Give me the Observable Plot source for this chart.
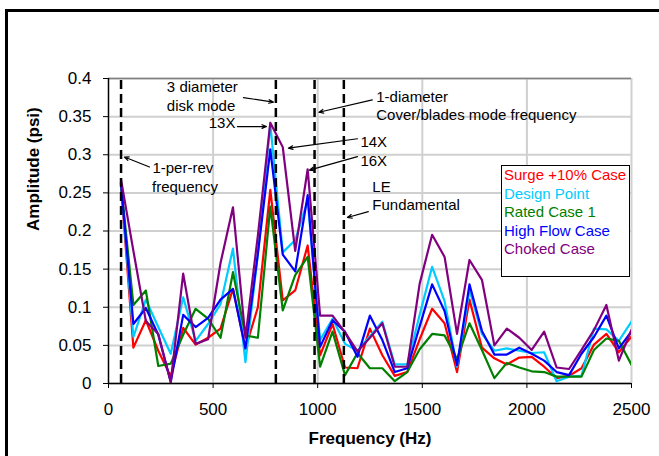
<!DOCTYPE html>
<html><head><meta charset="utf-8">
<script src="https://cdn.jsdelivr.net/npm/d3@7"></script>
<script src="https://cdn.jsdelivr.net/npm/@observablehq/plot@0.6"></script>
<style>
body{margin:0;background:#fff;font-family:Arial,"Liberation Sans",sans-serif;}
#wrap{position:relative;width:659px;height:456px;overflow:hidden;background:#fff;}
#frame{position:absolute;left:5px;top:9px;width:720px;height:520px;border:3px solid #000;box-sizing:border-box;}
#chart{position:absolute;left:0;top:0;}
#legend{position:absolute;left:501px;top:165px;width:129px;height:112px;border:1.5px solid #000;box-sizing:border-box;background:#fff;font-size:15px;line-height:18.6px;padding-left:2px;padding-top:0px;}
#legend div{white-space:nowrap;}
</style></head>
<body><div id="wrap"><div id="frame"></div><div id="chart"></div><div id="legend"></div></div>
<script>
const freq = [59.5,119,178.5,238,297.5,357,416.5,476,535.5,595,654.5,714,773.5,833,892.5,952,1011.5,1071,1130.5,1190,1249.5,1309,1368.5,1428,1487.5,1547,1606.5,1666,1725.5,1785,1844.5,1904,1963.5,2023,2082.5,2142,2201.5,2261,2320.5,2380,2439.5,2499];

const surge = [0.262,0.047,0.083,0.043,0.009,0.073,0.051,0.060,0.072,0.124,0.046,0.100,0.254,0.109,0.122,0.181,0.037,0.078,0.021,0.020,0.072,0.037,0.010,0.015,0.058,0.098,0.079,0.015,0.110,0.047,0.033,0.025,0.034,0.035,0.022,0.007,0.010,0.020,0.051,0.065,0.041,0.061];
const design = [0.265,0.061,0.110,0.074,0.039,0.113,0.056,0.078,0.104,0.177,0.028,0.170,0.340,0.172,0.188,0.240,0.057,0.085,0.052,0.043,0.062,0.081,0.025,0.025,0.090,0.153,0.108,0.022,0.123,0.065,0.043,0.046,0.043,0.040,0.041,0.003,0.009,0.010,0.072,0.071,0.056,0.081];
const rated = [0.262,0.103,0.122,0.023,0.026,0.064,0.098,0.085,0.060,0.146,0.063,0.060,0.232,0.096,0.142,0.166,0.022,0.068,0.011,0.040,0.020,0.020,0.003,0.015,0.045,0.065,0.063,0.032,0.079,0.044,0.007,0.027,0.021,0.016,0.015,0.009,0.009,0.009,0.044,0.059,0.056,0.025];
const highFlow = [0.263,0.078,0.099,0.064,0.002,0.090,0.074,0.086,0.110,0.124,0.046,0.170,0.307,0.169,0.147,0.247,0.048,0.083,0.068,0.035,0.089,0.057,0.015,0.020,0.075,0.130,0.095,0.024,0.130,0.069,0.038,0.038,0.047,0.039,0.030,0.015,0.011,0.039,0.061,0.089,0.046,0.068];
const choked = [0.268,0.174,0.082,0.065,0.002,0.144,0.052,0.058,0.158,0.231,0.060,0.194,0.342,0.310,0.174,0.281,0.089,0.089,0.067,0.042,0.060,0.079,0.022,0.022,0.131,0.195,0.166,0.065,0.162,0.136,0.050,0.072,0.060,0.044,0.068,0.021,0.019,0.044,0.070,0.103,0.030,0.070];

const seriesNames = ["Surge +10% Case","Design Point","Rated Case 1","High Flow Case","Choked Case"];
const seriesValues = [surge, design, rated, highFlow, choked];
const seriesColors = ["#ff0000","#00ccff","#008000","#0000ff","#800080"];

const xTicks = [0,500,1000,1500,2000,2500];
const yTicks = [0,0.05,0.1,0.15,0.2,0.25,0.3,0.35,0.4];
const yTickLabels = ["0","0.05","0.1","0.15","0.2","0.25","0.3","0.35","0.4"];
const markerFreqs = [60,800,985,1125];

const rows = seriesNames.flatMap((name,i)=>freq.map((f,j)=>({f, v: seriesValues[i][j], series: name})));

const font = "Arial, 'Liberation Sans', sans-serif";
const ann = {fontSize:15, fill:"#000", textAnchor:"start", fontFamily:font};
const arrowStyle = {stroke:"#000", strokeWidth:1.2, headLength:6, headAngle:45};

const chart = Plot.plot({
  width:659, height:456,
  marginLeft:108, marginRight:28, marginTop:78, marginBottom:73,
  style:{fontFamily:font, background:"transparent", overflow:"visible"},
  x:{domain:[0,2500]},
  y:{domain:[0,0.4]},
  color:{domain:seriesNames, range:seriesColors},
  marks:[
    Plot.gridY(yTicks, {stroke:"#d0d0d0", strokeOpacity:1, strokeWidth:2}),
    Plot.gridX(xTicks.slice(1), {stroke:"#d0d0d0", strokeOpacity:1, strokeWidth:2}),
    Plot.ruleY([0.4], {stroke:"#808080", strokeWidth:1.5}),
    Plot.line(rows, {x:"f", y:"v", z:"series", stroke:"series", strokeWidth:2.2, clip:true}),
    Plot.ruleX(markerFreqs, {y1:0, y2:0.4, stroke:"#000", strokeWidth:2.5, strokeDasharray:"9,5"}),
    Plot.ruleY([0], {stroke:"#000", strokeWidth:1.5}),
    Plot.ruleX([0], {stroke:"#000", strokeWidth:1.5}),
    Plot.axisX({ticks:xTicks, tickFormat:d=>String(d), tickSize:5, tickPadding:14, fontSize:17, label:null, stroke:"#000"}),
    Plot.axisY({ticks:yTicks, tickFormat:(d,i)=>yTickLabels[i], tickSize:5, tickPadding:12, fontSize:17, label:null, stroke:"#000"}),
    Plot.text(["Frequency (Hz)"], {frameAnchor:"bottom", dy:60, fontSize:17, fontWeight:"bold", fontFamily:font}),
    Plot.text(["Amplitude (psi)"], {frameAnchor:"left", dx:-75, rotate:-90, fontSize:17, fontWeight:"bold", fontFamily:font}),
    // annotations
    Plot.text(["3 diameter"], {...ann, x:279, y:0.388}),
    Plot.text(["disk mode"], {...ann, x:279, y:0.364}),
    Plot.arrow([0], {...arrowStyle, x1:645, y1:0.375, x2:788, y2:0.369}),
    Plot.text(["13X"], {...ann, textAnchor:"end", x:607, y:0.342}),
    Plot.arrow([0], {...arrowStyle, x1:616, y1:0.337, x2:755, y2:0.337}),
    Plot.text(["1-per-rev"], {...ann, x:210, y:0.283}),
    Plot.text(["frequency"], {...ann, x:208, y:0.257}),
    Plot.arrow([0], {...arrowStyle, x1:196, y1:0.284, x2:76, y2:0.297}),
    Plot.text(["1-diameter"], {...ann, x:1280, y:0.376}),
    Plot.text(["Cover/blades mode frequency"], {...ann, x:1280, y:0.3525}),
    Plot.arrow([0], {...arrowStyle, x1:1261, y1:0.372, x2:1006, y2:0.3557}),
    Plot.text(["14X"], {...ann, x:1204, y:0.316}),
    Plot.arrow([0], {...arrowStyle, x1:1190, y1:0.321, x2:860, y2:0.3086}),
    Plot.text(["16X"], {...ann, x:1204, y:0.291}),
    Plot.arrow([0], {...arrowStyle, x1:1190, y1:0.2975, x2:960, y2:0.2798}),
    Plot.text(["LE"], {...ann, x:1261, y:0.257}),
    Plot.text(["Fundamental"], {...ann, x:1261, y:0.2333}),
    Plot.arrow([0], {...arrowStyle, x1:1242, y1:0.2255, x2:1142, y2:0.2177})
  ]
});
document.getElementById("chart").appendChild(chart);

const legend = document.getElementById("legend");
seriesNames.forEach((n,i)=>{
  const d = document.createElement("div");
  d.textContent = n;
  d.style.color = seriesColors[i];
  legend.appendChild(d);
});
</script></body></html>
